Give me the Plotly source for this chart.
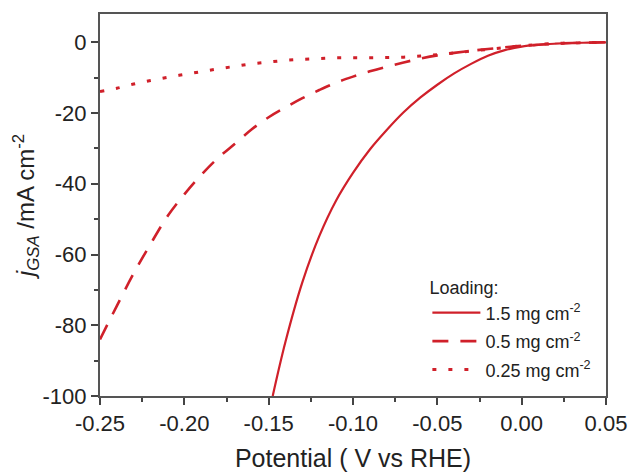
import plotly.graph_objects as go

# Potential grid (V vs RHE)
potential = [-0.25, -0.24, -0.23, -0.22, -0.21, -0.20, -0.19, -0.18, -0.17, -0.16,
             -0.15, -0.14, -0.13, -0.12, -0.11, -0.10, -0.09, -0.08, -0.07, -0.06,
             -0.05, -0.04, -0.03, -0.02, -0.01, 0.00, 0.01, 0.02, 0.03, 0.04, 0.05]

# Current density for 1.5 mg cm-2 loading
potential_15 = [-0.1476, -0.14, -0.13, -0.12, -0.11, -0.10, -0.09, -0.08, -0.07, -0.06,
                -0.05, -0.04, -0.03, -0.02, -0.01, 0.00, 0.01, 0.02, 0.03, 0.04, 0.05]
j_15 = [-100.0, -84.6, -67.8, -54.8, -44.7, -36.9, -30.3, -24.8, -19.8, -15.6,
        -12.0, -8.8, -6.1, -3.8, -2.2, -1.2, -0.7, -0.4, -0.2, -0.1, 0.0]

# Current density for 0.5 mg cm-2 loading
j_05 = [-84.0, -74.5, -65.3, -57.0, -49.2, -43.0, -37.5, -32.7, -28.7, -24.6,
        -21.2, -18.4, -15.8, -13.5, -11.4, -9.7, -8.2, -6.9, -5.7, -4.6,
        -3.7, -3.0, -2.4, -1.9, -1.4, -1.0, -0.7, -0.4, -0.2, -0.1, 0.0]

# Current density for 0.25 mg cm-2 loading
j_025 = [-13.9, -13.0, -11.8, -10.8, -9.9, -9.1, -8.3, -7.5, -6.8, -6.1,
         -5.6, -5.1, -4.8, -4.6, -4.4, -4.4, -4.4, -4.3, -4.2, -3.9,
         -3.5, -3.0, -2.5, -2.0, -1.5, -1.0, -0.6, -0.3, -0.2, -0.1, 0.0]

series_names = ["1.5 mg cm<sup>-2</sup>", "0.5 mg cm<sup>-2</sup>", "0.25 mg cm<sup>-2</sup>"]

x_ticks = [-0.25, -0.20, -0.15, -0.10, -0.05, 0.00, 0.05]
x_ticktext = ["-0.25", "-0.20", "-0.15", "-0.10", "-0.05", "0.00", "0.05"]
y_ticks = [0, -20, -40, -60, -80, -100]
y_ticktext = ["0", "-20", "-40", "-60", "-80", "-100"]

RED = "#d0202a"
FONT = "Liberation Sans, Arial, sans-serif"

fig = go.Figure()
fig.add_trace(go.Scatter(x=potential_15, y=j_15, mode="lines", name=series_names[0],
                         legendgroup="a",
                         line=dict(color=RED, width=2.2, dash="solid", shape="spline")))
fig.add_trace(go.Scatter(x=potential, y=j_05, mode="lines", name=series_names[1],
                         legendgroup="b",
                         line=dict(color=RED, width=2.6, dash="16px,12px", shape="spline")))
fig.add_trace(go.Scatter(x=potential, y=j_025, mode="lines", name=series_names[2],
                         legendgroup="c",
                         line=dict(color=RED, width=3, dash="4px,12px", shape="spline")))

axis_common = dict(
    showline=True, linecolor="#555555", linewidth=2, mirror=True,
    ticks="outside", ticklen=7, tickwidth=1.5, tickcolor="#444444",
    showgrid=False, zeroline=False, automargin=False,
    tickfont=dict(family=FONT, size=22, color="#222222"),
)

fig.update_layout(
    width=633, height=475,
    margin=dict(l=100, r=27, t=14, b=79),
    paper_bgcolor="white", plot_bgcolor="white",
    font=dict(family=FONT, color="#222222"),
    xaxis=dict(
        range=[-0.25, 0.05], tickmode="array", tickvals=x_ticks, ticktext=x_ticktext,
        minor=dict(ticks="outside", ticklen=4, tickwidth=1.5, tickcolor="#444444", dtick=0.025,
                   tick0=-0.25, showgrid=False),
        title=dict(text="Potential ( V vs RHE)", font=dict(family=FONT, size=25, color="#222222"),
                   standoff=14),
        **axis_common,
    ),
    yaxis=dict(
        range=[-100, 8], tickmode="array", tickvals=y_ticks, ticktext=y_ticktext,
        minor=dict(ticks="outside", ticklen=4, tickwidth=1.5, tickcolor="#444444", dtick=10,
                   tick0=0, showgrid=False),
        title=dict(text="<i>j</i><sub><i>GSA</i></sub> /mA cm<sup>-2</sup>",
                   font=dict(family=FONT, size=24, color="#222222"), standoff=1),
        **axis_common,
    ),
    legend=dict(
        title=dict(text="Loading:", font=dict(family=FONT, size=18, color="#222222")),
        x=0.647, y=0.327, xanchor="left", yanchor="top",
        font=dict(family=FONT, size=18, color="#222222"),
        bgcolor="rgba(0,0,0,0)", itemwidth=48, tracegroupgap=2,
    ),
    showlegend=True,
)

fig.write_html("out.html")
